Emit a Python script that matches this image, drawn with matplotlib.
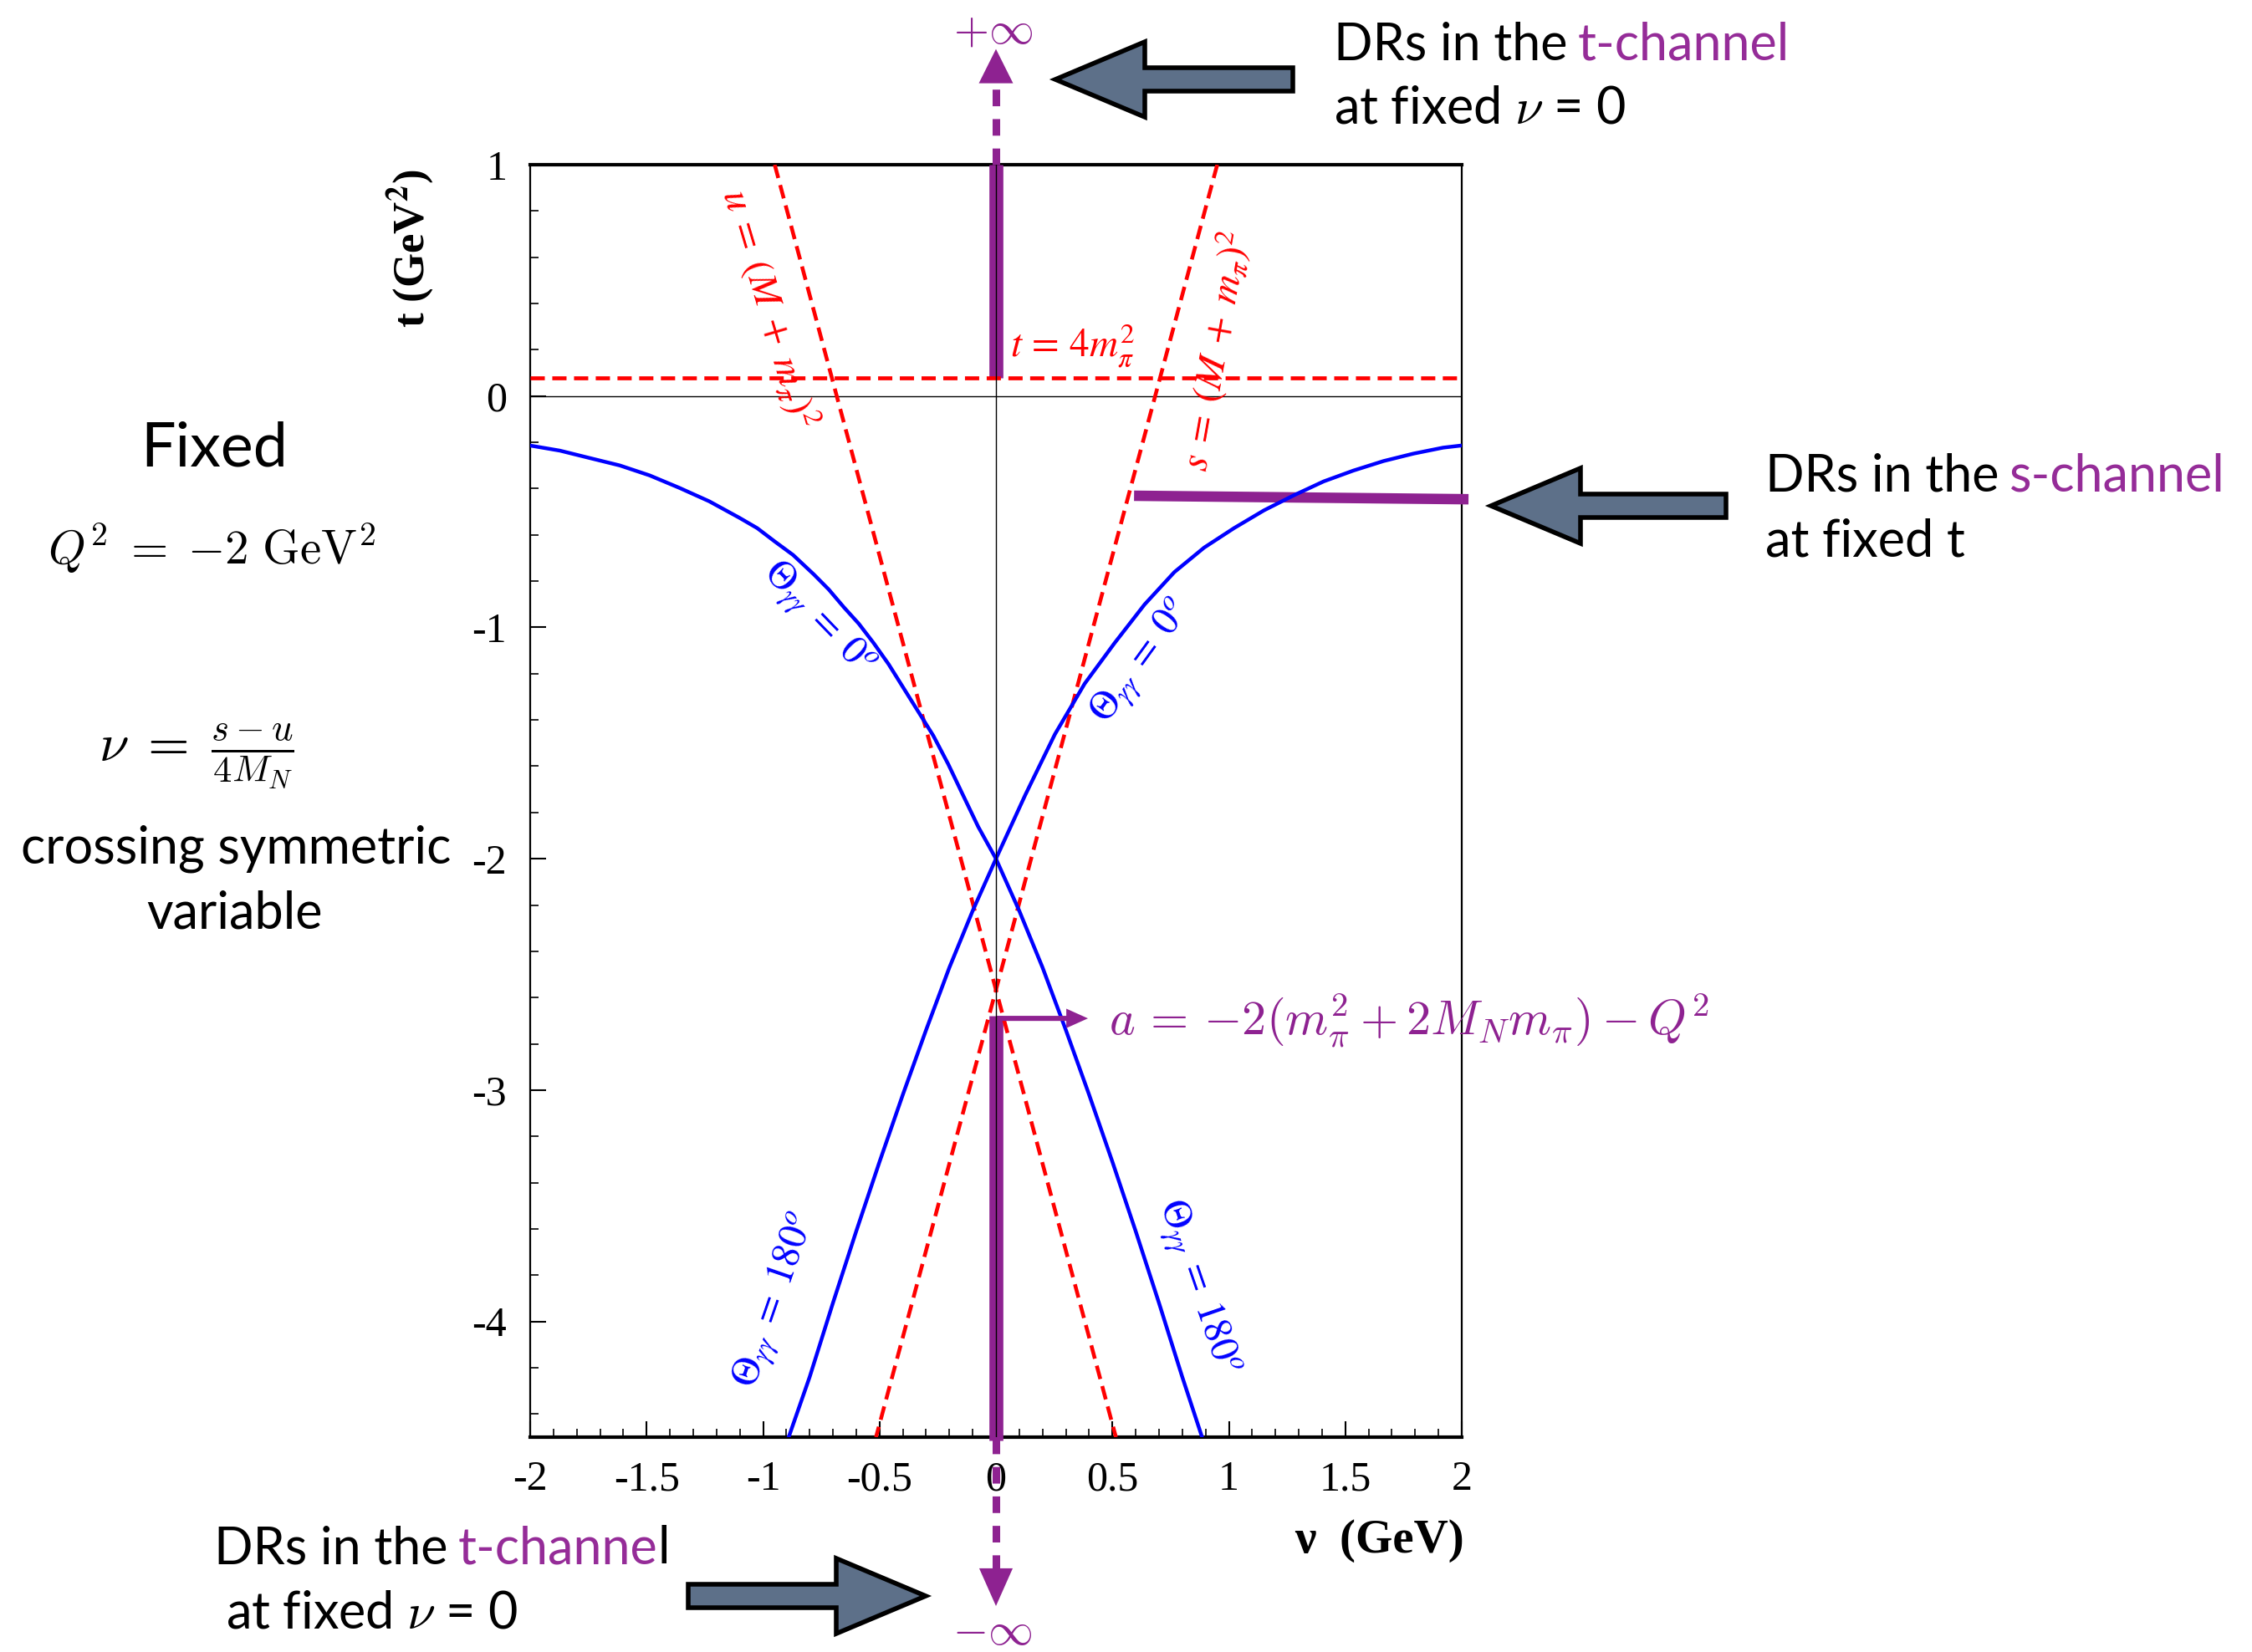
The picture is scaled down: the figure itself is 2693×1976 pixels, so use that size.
import matplotlib
matplotlib.use("Agg")
import matplotlib.pyplot as plt
from matplotlib.patches import FancyArrow
from matplotlib.ticker import MultipleLocator

plt.rcParams["axes.unicode_minus"] = False

W, H, DPI = 2693, 1976, 100

PURPLE = "#8E2291"
TEXT_PURPLE = "#952C98"
RED = "#FF0000"
BLUE = "#0000FF"
ARROW_FILL = "#5D7089"
SANS = ["Lato", "DejaVu Sans"]
SERIF = ["Liberation Serif", "DejaVu Serif"]

# ---- axis ticks -------------------------------------------------------------
nu_major = [-2, -1.5, -1, -0.5, 0, 0.5, 1, 1.5, 2]
nu_major_labels = ["-2", "-1.5", "-1", "-0.5", "0", "0.5", "1", "1.5", "2"]
t_major = [1, 0, -1, -2, -3, -4]
t_major_labels = ["1", "0", "-1", "-2", "-3", "-4"]

# ---- boundary curves of the physical region (nu in GeV, t in GeV^2) ---------
theta_a_nu = [-2.0, -1.872, -1.744, -1.615, -1.487, -1.359, -1.231, -1.102, -1.025,
              -0.948, -0.871, -0.782, -0.718, -0.653, -0.589, -0.525, -0.461,
              -0.397, -0.333, -0.269, -0.205, -0.141, -0.076, 0.0, 0.1, 0.2, 0.3,
              0.4, 0.5, 0.6, 0.7, 0.8, 0.885]
theta_a_t = [-0.214, -0.236, -0.268, -0.300, -0.343, -0.397, -0.455, -0.526, -0.571,
             -0.630, -0.687, -0.771, -0.836, -0.913, -0.984, -1.068, -1.159, -1.262,
             -1.365, -1.468, -1.591, -1.726, -1.862, -2.0, -2.225, -2.47, -2.74,
             -3.02, -3.31, -3.61, -3.92, -4.24, -4.5]

theta_b_nu = [1.997, 1.920, 1.792, 1.664, 1.535, 1.407, 1.279, 1.151, 1.022, 0.894,
              0.766, 0.638, 0.509, 0.381, 0.253, 0.125, 0.0, -0.1, -0.2, -0.3, -0.4,
              -0.5, -0.6, -0.7, -0.8, -0.89]
theta_b_t = [-0.214, -0.223, -0.249, -0.281, -0.322, -0.369, -0.429, -0.494, -0.571,
             -0.655, -0.761, -0.901, -1.068, -1.243, -1.462, -1.726, -2.0, -2.225,
             -2.47, -2.74, -3.02, -3.31, -3.61, -3.92, -4.24, -4.5]

# ---- thresholds ---------------------------------------------------------------
t_threshold = 0.078            # t = 4 m_pi^2
u_thr_nu = [-0.95, 0.515]      # u = (M + m_pi)^2
u_thr_t = [1.0, -4.5]
s_thr_nu = [0.95, -0.515]      # s = (M + m_pi)^2
s_thr_t = [1.0, -4.5]

# ---- integration paths of the dispersion relations ---------------------------
s_path_nu = [0.593, 2.029]
s_path_t = [-0.431, -0.446]
t_path_upper = [0.078, 1.0]
t_path_lower = [-2.68, -4.515]
t_a = -2.69                    # position of the arrow to the value a

fig = plt.figure(figsize=(W / DPI, H / DPI), dpi=DPI)
ax = fig.add_axes([634 / W, 1 - 1719 / H, 1114 / W, 1522 / H])
ax.set_xlim(-2, 2)
ax.set_ylim(-4.5, 1)

# reference lines t = 0 and nu = 0
ax.axhline(0, color="black", lw=1.0, zorder=2)
ax.axvline(0, color="black", lw=1.0, zorder=7)

# integration paths
ax.plot([0, 0], t_path_upper, color=PURPLE, lw=12, solid_capstyle="butt",
        zorder=3, clip_on=False)
ax.plot([0, 0], t_path_lower, color=PURPLE, lw=12, solid_capstyle="butt",
        zorder=3, clip_on=False)
ax.plot(s_path_nu, s_path_t, color=PURPLE, lw=9, solid_capstyle="butt",
        zorder=3, clip_on=False)

# paths continuing to +/- infinity
ax.plot([0, 0], [1.0, 1.36], color=PURPLE, lw=6.5, ls=(0, (2.2, 1.7)),
        solid_capstyle="butt", clip_on=False, zorder=3)
ax.add_patch(FancyArrow(0, 1.352, 0, 0.148, width=0, head_width=0.147,
                        head_length=0.148, length_includes_head=True,
                        color=PURPLE, lw=0, clip_on=False, zorder=3))
ax.plot([0, 0], [-4.5, -5.07], color=PURPLE, lw=6.5, ls=(0, (2.2, 1.7)),
        solid_capstyle="butt", clip_on=False, zorder=3)
ax.add_patch(FancyArrow(0, -5.067, 0, -0.163, width=0, head_width=0.144,
                        head_length=0.163, length_includes_head=True,
                        color=PURPLE, lw=0, clip_on=False, zorder=3))

# arrow pointing to the label of a
ax.add_patch(FancyArrow(0, t_a, 0.395, 0, width=0.022, head_width=0.084,
                        head_length=0.093, length_includes_head=True,
                        color=PURPLE, lw=0, zorder=6))

# threshold lines
dash = (0, (3.6, 1.9))
ax.plot([-2, 2], [t_threshold, t_threshold], color=RED, lw=3.4, ls=dash, zorder=4)
ax.plot(u_thr_nu, u_thr_t, color=RED, lw=3.3, ls=dash, zorder=4)
ax.plot(s_thr_nu, s_thr_t, color=RED, lw=3.3, ls=dash, zorder=4)

# boundary curves
ax.plot(theta_a_nu, theta_a_t, color=BLUE, lw=3.2, zorder=5)
ax.plot(theta_b_nu, theta_b_t, color=BLUE, lw=3.2, zorder=5)

# curve and threshold labels
ax.text(-0.97, 0.38, r"$u\;=\;(M\;+\;m_{\pi})^{2}$", color=RED, fontsize=34,
        math_fontfamily="stix", rotation=-73.5, ha="center", va="center",
        rotation_mode="anchor")
ax.text(0.94, 0.195, r"$s\;=\;(M\;+\;m_{\pi})^{2}$", color=RED, fontsize=34,
        math_fontfamily="stix", rotation=80, ha="center", va="center",
        rotation_mode="anchor")
ax.text(0.061, 0.169, r"$t\,=\,\mathit{4}m_{\pi}^{2}$", color=RED, fontsize=34,
        math_fontfamily="stix", ha="left", va="baseline")

theta0 = r"$\Theta_{\gamma\gamma}\;=\;\mathit{0}^{o}$"
theta180 = r"$\Theta_{\gamma\gamma}\;=\;\mathit{180}^{o}$"
ax.text(-0.768, -0.966, theta0, color=BLUE, fontsize=34, math_fontfamily="stix",
        rotation=-46, ha="center", va="center", rotation_mode="anchor")
ax.text(0.628, -1.15, theta0, color=BLUE, fontsize=34, math_fontfamily="stix",
        rotation=54, ha="center", va="center", rotation_mode="anchor")
ax.text(-0.94, -3.91, theta180, color=BLUE, fontsize=34, math_fontfamily="stix",
        rotation=71, ha="center", va="center", rotation_mode="anchor")
ax.text(0.862, -3.854, theta180, color=BLUE, fontsize=34, math_fontfamily="stix",
        rotation=-71, ha="center", va="center", rotation_mode="anchor")

ax.text(0.485, -2.70, r"$a\,=\,{-2}(m_\pi^2 + 2M_Nm_\pi) - Q^2$", color=PURPLE,
        fontsize=42, math_fontfamily="cm", ha="left", va="center", clip_on=False,
        zorder=8)

# ticks and frame
ax.set_xticks(nu_major, nu_major_labels)
ax.set_yticks(t_major, t_major_labels)
ax.xaxis.set_minor_locator(MultipleLocator(0.1))
ax.yaxis.set_minor_locator(MultipleLocator(0.2))
ax.tick_params(which="both", direction="in", top=False, right=False)
ax.tick_params(which="major", length=14, width=1.5, labelsize=36, pad=20)
ax.tick_params(which="minor", length=7.5, width=1.2)
for lab in ax.get_xticklabels() + ax.get_yticklabels():
    lab.set_family(SERIF)
for side in ("top", "bottom"):
    ax.spines[side].set_linewidth(3.0)
for side in ("left", "right"):
    ax.spines[side].set_linewidth(1.6)

# ---- annotation layer in pixel coordinates -----------------------------------
ov = fig.add_axes([0, 0, 1, 1], zorder=10)
ov.set_xlim(0, W)
ov.set_ylim(H, 0)
ov.axis("off")

ov.text(491, 297, r"t (GeV$^{\mathbf{2}}$)", rotation=90, family=SERIF,
        weight="bold", fontsize=38, ha="center", va="center",
        math_fontfamily="stix")
ov.text(1751, 1857, "ν  (GeV)", family=SERIF, weight="bold", fontsize=41,
        ha="right", va="baseline")

ov.text(1188, 37, r"$+\infty$", color=PURPLE, fontsize=39, math_fontfamily="cm",
        ha="center", va="center")
ov.text(1187, 1952, r"$-\infty$", color=PURPLE, fontsize=39, math_fontfamily="cm",
        ha="center", va="center")

ov.text(256, 557, "Fixed", family=SANS, fontsize=53, ha="center", va="baseline")
ov.text(253, 675, r"$Q^2\;=\;{-2}\ \mathrm{GeV}^2$", fontsize=41,
        math_fontfamily="cm", ha="center", va="baseline")
ov.text(235, 905, r"$\nu\;=\;\frac{s-u}{4M_N}$", fontsize=46,
        math_fontfamily="cm", ha="center", va="center")
ov.text(282, 1032, "crossing symmetric", family=SANS, fontsize=44,
        ha="center", va="baseline")
ov.text(281, 1110, "variable", family=SANS, fontsize=44, ha="center",
        va="baseline")


def block_arrow(x_tail, x_tip, y):
    ov.add_patch(FancyArrow(x_tail, y, x_tip - x_tail, 0, width=28, head_width=90,
                            head_length=107, length_includes_head=True,
                            facecolor=ARROW_FILL, edgecolor="black", lw=4,
                            joinstyle="miter"))


def colored_line(x, y, parts, size=44):
    txt = ov.text(x, y, parts[0][0], color=parts[0][1], family=SANS,
                  fontsize=size, ha="left", va="baseline")
    for s, c, gap in parts[1:]:
        txt = ov.annotate(s, xy=(1, 0), xycoords=txt, xytext=(gap, 0),
                          textcoords="offset points", color=c, family=SANS,
                          fontsize=size, ha="left", va="bottom")


block_arrow(1546, 1262, 95)
colored_line(1595, 71, [("DRs in the", "black"), ("t-channel", TEXT_PURPLE, 9)])
ov.text(1595, 148, r"at fixed $\nu$ = 0", family=SANS, fontsize=44,
        math_fontfamily="cm", ha="left", va="baseline")

block_arrow(2064, 1783, 605)
colored_line(2111, 587, [("DRs in the", "black"), ("s-channel", TEXT_PURPLE, 9)])
ov.text(2111, 665, "at fixed t", family=SANS, fontsize=44, ha="left",
        va="baseline")

block_arrow(823, 1107, 1909)
colored_line(256, 1870, [("DRs in the", "black"), ("t-channe", TEXT_PURPLE, 9),
                         ("l", "black", 0)])
ov.text(270, 1947, r"at fixed $\nu$ = 0", family=SANS, fontsize=44,
        math_fontfamily="cm", ha="left", va="baseline")

fig.savefig("out.png", dpi=DPI)
